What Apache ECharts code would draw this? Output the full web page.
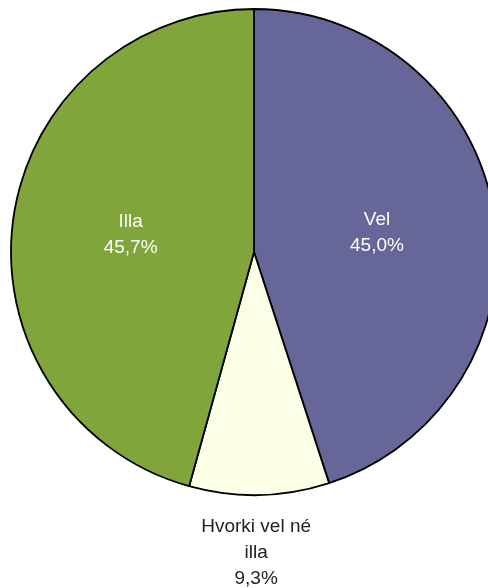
<!DOCTYPE html>
<html>
<head>
<meta charset="utf-8">
<script src="https://cdn.jsdelivr.net/npm/echarts@6/dist/echarts.min.js"></script>
<style>
  html, body { margin: 0; padding: 0; background: #fff; }
  #chart { width: 488px; height: 588px; }
</style>
</head>
<body>
<div id="chart"></div>
<script>
const categories = ['Vel', 'Hvorki vel né\nilla', 'Illa']
const shares = [45.0, 9.3, 45.7]
const colors = ['#666699', '#FAFFE6', '#7FA53B']
const labelColors = ['#fff', '#222', '#fff']

const chart = echarts.init(document.getElementById('chart'))

const data = categories.map((name, i) => ({
  name,
  value: shares[i],
  itemStyle: { color: colors[i] },
  label: {
    color: labelColors[i],
    position: i === 1 ? 'outside' : 'inside'
  },
  labelLine: { show: false }
}))

const option = {
  animation: false,
  series: [{
    type: 'pie',
    center: [254, 252],
    radius: 243,
    startAngle: 90,
    clockwise: true,
    itemStyle: {
      borderColor: '#000',
      borderWidth: 1.8
    },
    label: {
      fontFamily: '"Liberation Sans Narrow", "Arial Narrow", "Liberation Sans", sans-serif',
      fontSize: 19,
      lineHeight: 26,
      formatter: p => p.name + '\n' + p.value.toFixed(1).replace('.', ',') + '%'
    },
    labelLayout: params => {
      if (params.dataIndex !== 1) return {}
      return {
        x: params.rect.x + params.rect.width / 2 - 3,
        y: params.rect.y + params.rect.height + 18,
        align: 'center',
        verticalAlign: 'top'
      }
    },
    data
  }]
}

chart.setOption(option)
</script>
</body>
</html>
